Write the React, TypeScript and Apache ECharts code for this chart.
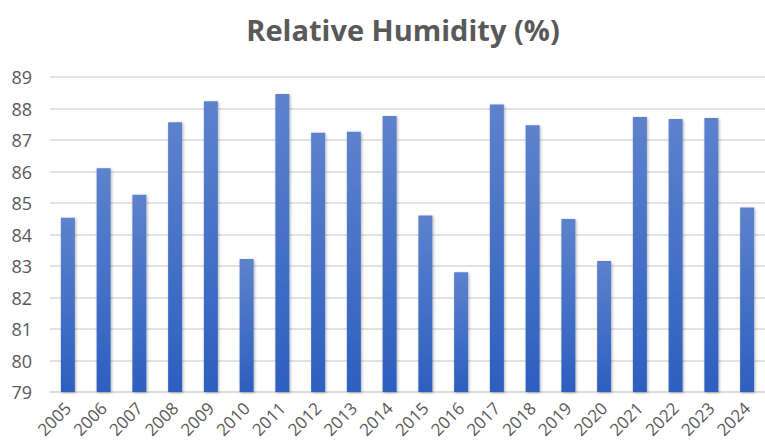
import React, { useEffect, useRef } from "react";
import * as echarts from "echarts";

const years = ["2005","2006","2007","2008","2009","2010","2011","2012","2013","2014","2015","2016","2017","2018","2019","2020","2021","2022","2023","2024"];
const humidity = [84.53, 86.1, 85.26, 87.56, 88.23, 83.22, 88.46, 87.23, 87.26, 87.76, 84.6, 82.8, 88.13, 87.47, 84.49, 83.16, 87.73, 87.67, 87.7, 84.86];
const yMin = 79;
const yMax = 89;
const yStep = 1;
const titleText = "Relative Humidity (%)";

export default function App() {
  const ref = useRef<HTMLDivElement>(null);
  useEffect(() => {
    if (!ref.current) return;
    const chart = echarts.init(ref.current, null, { renderer: "svg" });
    chart.setOption({
      animation: false,
      backgroundColor: "#ffffff",
      title: {
        text: titleText,
        left: 398,
        textAlign: "center",
        top: 10,
        textStyle: { fontFamily: "Open Sans", fontWeight: "bold", fontSize: 29, color: "#595959" },
      },
      grid: { left: 50, top: 77, width: 728, height: 315, containLabel: false },
      xAxis: {
        type: "category",
        data: years,
        axisLine: { show: true, lineStyle: { color: "#d9d9d9", width: 1.5 } },
        axisTick: { show: false },
        axisLabel: { rotate: 45, margin: 13, fontFamily: "Open Sans", fontSize: 17, color: "#595959", interval: 0 },
      },
      yAxis: {
        type: "value",
        min: yMin,
        max: yMax,
        interval: yStep,
        axisLine: { show: false },
        axisTick: { show: false },
        splitLine: { lineStyle: { color: "#d9d9d9", width: 1.5 } },
        axisLabel: { margin: 18, fontFamily: "Open Sans", fontSize: 18, color: "#595959" },
      },
      series: [
        {
          type: "bar",
          data: humidity,
          barWidth: 14,
          itemStyle: {
            color: new echarts.graphic.LinearGradient(0, 0, 0, 1, [
              { offset: 0, color: "#5d82cd" },
              { offset: 1, color: "#2d5fbf" },
            ]),
            shadowBlur: 3,
            shadowColor: "rgba(0,0,0,0.3)",
            shadowOffsetX: 1,
            shadowOffsetY: 1,
          },
        },
      ],
    });
    return () => chart.dispose();
  }, []);
  return <div ref={ref} style={{ width: 765, height: 444, position: "absolute", left: 0, top: 0 }} />;
}
